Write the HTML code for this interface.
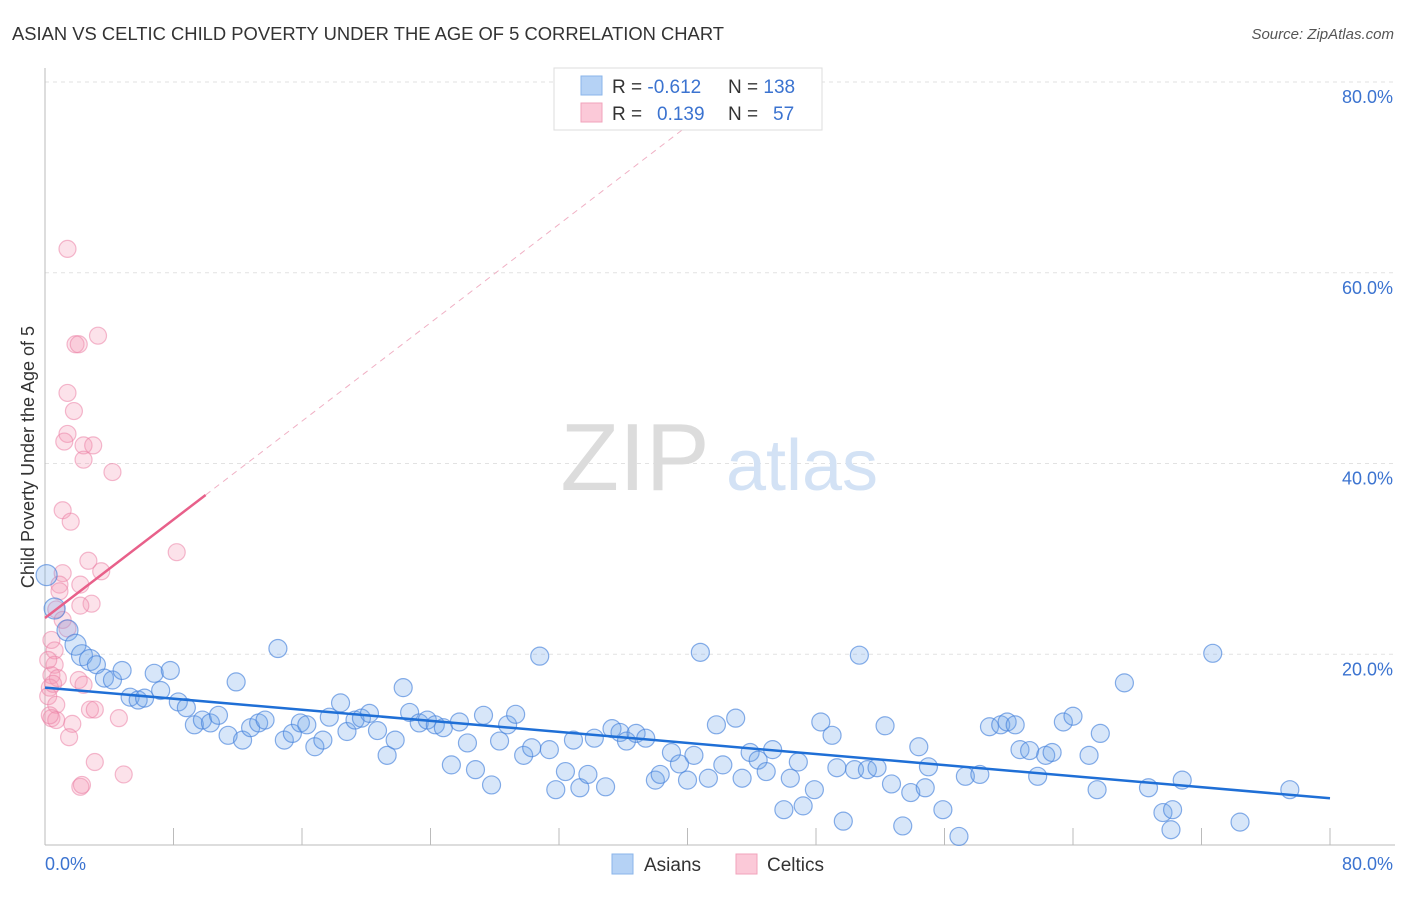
<!DOCTYPE html>
<html><head><meta charset="utf-8"><style>
body{margin:0;background:#fff;font-family:"Liberation Sans",sans-serif;}
svg text{font-family:"Liberation Sans",sans-serif;}
</style></head><body>
<svg id="chart" width="1406" height="892" viewBox="0 0 1406 892" xmlns="http://www.w3.org/2000/svg">
<text x="12" y="40" font-size="18" fill="#333" textLength="712" lengthAdjust="spacingAndGlyphs">ASIAN VS CELTIC CHILD POVERTY UNDER THE AGE OF 5 CORRELATION CHART</text>
<text x="1394" y="39" font-size="15" fill="#555" text-anchor="end" font-style="italic">Source: ZipAtlas.com</text>
<g id="grid"></g>
<g>
<text x="635" y="490" font-size="96" fill="#dcdcdc" font-family="Liberation Serif, serif" text-anchor="middle">ZIP</text>
<text x="802" y="490" font-size="72" fill="#d3e2f5" text-anchor="middle">atlas</text>
</g>
<line x1="45" y1="845" x2="1395" y2="845" stroke="#bbb"/>
<line x1="45" y1="68" x2="45" y2="845" stroke="#bbb"/>
<text transform="translate(34,457) rotate(-90)" font-size="18" fill="#333" text-anchor="middle">Child Poverty Under the Age of 5</text>
<text x="45" y="870" font-size="18" fill="#3b73d0">0.0%</text>
<text x="1393" y="870" font-size="18" fill="#3b73d0" text-anchor="end">80.0%</text>
<g id="ticks"></g>
<g id="pinkpts"></g>
<g id="bluepts"></g>
<g id="lines"></g>
<g>
<rect x="554" y="68" width="268" height="62" fill="#fff" stroke="#ddd"/>
<rect x="581" y="76" width="21" height="19" fill="#b5d2f5" stroke="#8ab4ea"/>
<rect x="581" y="103" width="21" height="19" fill="#fbc9d8" stroke="#f2a3bb"/>
<text x="612" y="93" font-size="19" fill="#333">R = <tspan fill="#3b73d0">-0.612</tspan><tspan x="728">N = </tspan><tspan fill="#3b73d0">138</tspan></text>
<text x="612" y="120" font-size="19" fill="#333">R = <tspan fill="#3b73d0" x="657">0.139</tspan><tspan x="728">N = </tspan><tspan fill="#3b73d0" x="773">57</tspan></text>
</g>
<g><rect x="612" y="854" width="21" height="20" fill="#b5d2f5" stroke="#8ab4ea"/><text x="644" y="871" font-size="19" fill="#333">Asians</text></g>
<g><rect x="736" y="854" width="21" height="20" fill="#fbc9d8" stroke="#f2a3bb"/><text x="767" y="871" font-size="19" fill="#333">Celtics</text></g>
</svg>
<script>
const yTicks=[20,40,60,80];
const xTicks=[0,8,16,24,32,40,48,56,64,72,80];
const asianX=[0.1,0.6,1.4,1.9,2.3,2.8,3.2,3.7,4.2,4.8,5.3,5.8,6.2,6.8,7.2,7.8,8.3,8.8,9.3,9.8,10.3,10.8,11.4,11.9,12.3,12.8,13.3,13.7,14.5,14.9,15.4,15.9,16.3,16.8,17.3,17.7,18.4,18.8,19.3,19.7,20.2,20.7,21.3,21.8,22.3,22.7,23.3,23.8,24.3,24.8,25.3,25.8,26.3,26.8,27.3,27.8,28.3,28.8,29.3,29.8,30.3,30.8,31.4,31.8,32.4,32.9,33.3,33.8,34.2,34.9,35.3,35.8,36.2,36.8,37.4,38,38.3,39,39.5,40,40.4,40.8,41.3,41.8,42.2,43,43.4,43.9,44.4,44.9,45.3,46,46.4,46.9,47.2,47.9,48.3,49,49.3,49.7,50.4,50.7,51.2,51.8,52.3,52.7,53.4,53.9,54.4,55,54.8,55.9,56.9,57.3,58.2,58.8,59.5,59.9,60.4,60.7,61.3,61.8,62.3,62.7,63.4,64,65,65.5,65.7,67.2,68.7,69.6,70.1,70.2,70.8,72.7,74.4,77.5];
const asianY=[28.3,24.8,22.5,21,19.9,19.4,18.9,17.5,17.3,18.3,15.5,15.2,15.4,18,16.2,18.3,15,14.4,12.6,13.1,12.8,13.6,11.5,17.1,11,12.3,12.8,13.1,20.6,11,11.7,12.8,12.6,10.3,11,13.4,14.9,11.9,13.1,13.3,13.8,12,9.4,11,16.5,13.9,12.8,13.1,12.6,12.3,8.4,12.9,10.7,7.9,13.6,6.3,10.9,12.6,13.7,9.4,10.2,19.8,10,5.8,7.7,11,6,7.4,11.2,6.1,12.2,11.8,10.9,11.7,11.2,6.8,7.4,9.7,8.5,6.8,9.4,20.2,7,12.6,8.4,13.3,7,9.7,8.9,7.7,10,3.7,7,8.7,4.1,5.8,12.9,11.5,8.1,2.5,7.9,19.9,7.9,8.1,12.5,6.4,2,5.5,10.3,8.2,6,3.7,0.9,7.2,7.4,12.4,12.6,12.9,12.6,10,9.9,7.2,9.4,9.7,12.9,13.5,9.4,5.8,11.7,17,6,3.4,1.6,3.7,6.8,20.1,2.4,5.8];
const celticX=[1.4,1.9,2.1,3.3,1.4,1.8,1.4,1.2,2.4,3,2.4,4.2,1.1,1.6,8.2,2.7,3.5,1.1,0.9,2.2,0.9,2.9,2.2,0.7,1.1,1.4,0.4,0.6,0.6,0.4,0.8,2.1,2.4,0.3,0.2,0.7,2.8,3.1,4.6,0.4,0.7,1.7,1.5,3.1,4.9,2.2,2.3,0.2,0.5,0.3];
const celticY=[62.5,52.5,52.5,53.4,47.4,45.5,43.1,42.3,41.9,41.9,40.4,39.1,35.1,33.9,30.7,29.8,28.7,28.5,27.3,27.3,26.6,25.3,25.1,24.7,23.6,22.7,21.5,20.4,18.9,17.8,17.5,17.3,16.8,16.5,15.6,14.7,14.2,14.2,13.3,13.3,13.1,12.7,11.3,8.7,7.4,6.1,6.3,19.4,16.9,13.6];
const asianTrend=[16.5,4.9];
const celticTrend=[23.8,36.7];
const X0=45,X1=1330,Y0=845,Y80=82;
const xs=v=>X0+(X1-X0)*v/80;
const ys=v=>Y0-(Y0-Y80)*v/80;
const NS='http://www.w3.org/2000/svg';
function mk(tag,attrs,parent){const e=document.createElementNS(NS,tag);for(const k in attrs)e.setAttribute(k,attrs[k]);document.getElementById(parent).appendChild(e);return e;}
yTicks.forEach(t=>{
 const l=mk('line',{x1:45,x2:1395,y1:ys(t),y2:ys(t),stroke:'#e2e2e2','stroke-dasharray':'4,4'},'grid');
 
 
 const tx=mk('text',{x:1393,y:ys(t)+21,'font-size':18,fill:'#3b73d0','text-anchor':'end'},'grid');
 tx.textContent=t.toFixed(1)+'%';
 
 
});
xTicks.forEach(t=>{
 const l=mk('line',{x1:xs(t),x2:xs(t),y1:828,y2:845,stroke:'#bbb'},'ticks');
 
 
});
celticX.forEach((x,i)=>{
 const c=mk('circle',{cx:xs(x),cy:ys(celticY[i]),r:8.5,fill:'rgba(243,150,180,0.28)',stroke:'rgba(235,130,165,0.55)','stroke-width':1.2},'pinkpts');
 
 
});
asianX.forEach((x,i)=>{
 const c=mk('circle',{cx:xs(x),cy:ys(asianY[i]),r:x<3?10.5:9,fill:'rgba(110,165,235,0.28)',stroke:'rgba(70,130,220,0.65)','stroke-width':1.2},'bluepts');
 
 
});
const bl=mk('line',{x1:xs(0),y1:ys(asianTrend[0]),x2:xs(80),y2:ys(asianTrend[1]),stroke:'#1f6fd6','stroke-width':2.5},'lines');


const slope=(celticTrend[1]-celticTrend[0])/10;
const yTop=77;
const xEnd=(yTop-celticTrend[0])/slope;
const pd=mk('line',{x1:xs(10),y1:ys(celticTrend[1]),x2:xs(xEnd),y2:ys(yTop),stroke:'#f0b0c4','stroke-width':1,'stroke-dasharray':'6,5'},'lines');


const pl=mk('line',{x1:xs(0),y1:ys(celticTrend[0]),x2:xs(10),y2:ys(celticTrend[1]),stroke:'#e8608a','stroke-width':2.5},'lines');


</script>
</body></html>
